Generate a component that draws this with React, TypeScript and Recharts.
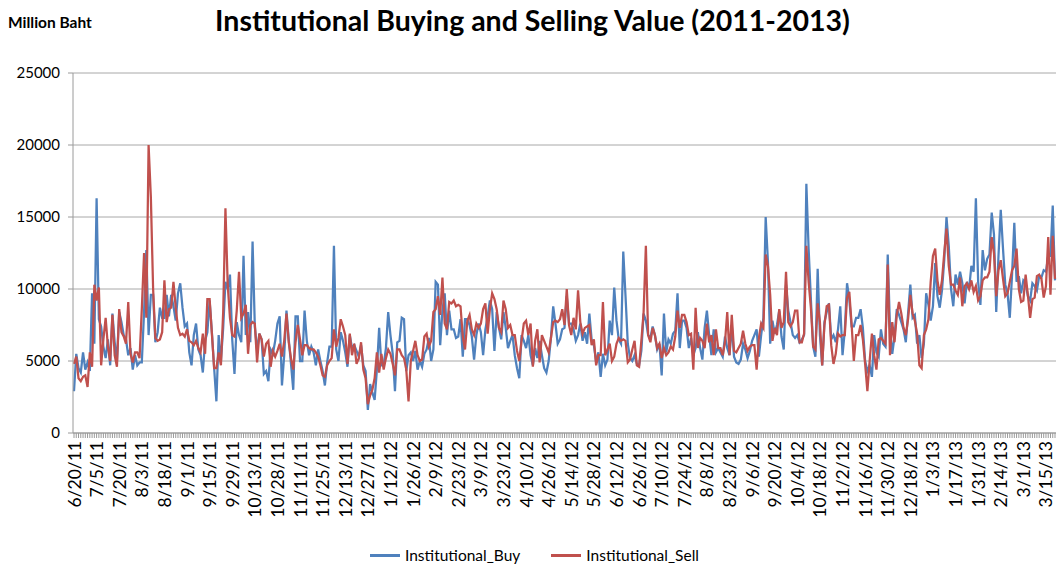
import { LineChart, Line, XAxis, YAxis, CartesianGrid } from 'recharts';

// one tick label every 10 trading days
const tickLabels = [
    '6/20/11', '7/5/11', '7/20/11', '8/3/11', '8/18/11', '9/1/11', '9/15/11', '9/29/11',
    '10/13/11', '10/28/11', '11/11/11', '11/25/11', '12/13/11', '12/27/11', '1/12/12', '1/26/12',
    '2/9/12', '2/23/12', '3/9/12', '3/23/12', '4/10/12', '4/26/12', '5/14/12', '5/28/12',
    '6/12/12', '6/26/12', '7/10/12', '7/24/12', '8/8/12', '8/23/12', '9/6/12', '9/20/12',
    '10/4/12', '10/18/12', '11/2/12', '11/16/12', '11/30/12', '12/18/12', '1/3/13', '1/17/13',
    '1/31/13', '2/14/13', '3/1/13', '3/15/13',
];

const yTicks = [0, 5000, 10000, 15000, 20000, 25000];

// Million Baht, daily (one row = 10 trading days)
const institutionalBuy = [
    2900, 5500, 4500, 4200, 5600, 4400, 4900, 4300, 9700, 6200,
    16300, 7900, 7400, 6000, 5200, 6500, 4700, 8300, 6300, 5000,
    8400, 7700, 6800, 6500, 5400, 5900, 4400, 5400, 4700, 4900,
    4900, 8400, 12700, 6800, 9600, 9600, 6300, 7000, 8700, 8000,
    8000, 9600, 8100, 9600, 8800, 7800, 9700, 10400, 8700, 7400,
    7600, 5600, 4700, 6800, 7600, 5800, 5400, 4200, 6400, 7000,
    9200, 7000, 4500, 2200, 6800, 5000, 7300, 10500, 10000, 11000,
    6500, 4100, 7700, 6800, 6300, 12300, 6800, 8400, 6300, 13300,
    7400, 5700, 6900, 6500, 4100, 4300, 3600, 5800, 5500, 6400,
    7600, 8100, 3300, 5400, 8500, 6500, 4800, 3000, 8100, 8100,
    5000, 5000, 8500, 6400, 5400, 6000, 5600, 4700, 5800, 5000,
    4300, 3300, 4900, 6000, 6000, 13000, 5800, 5000, 7000, 6400,
    5600, 4600, 6800, 5900, 6100, 5700, 5300, 6100, 4700, 4300,
    1600, 3400, 2800, 2300, 4400, 7300, 4700, 4700, 5900, 8400,
    6800, 5500, 2900, 6300, 6400, 8000, 7900, 4300, 5400, 5600,
    5000, 5700, 4400, 5000, 4600, 5500, 5800, 6600, 5000, 5800,
    10500, 10300, 6100, 8500, 9700, 6800, 8500, 7200, 7200, 6600,
    6700, 7900, 5300, 7900, 7900, 7500, 6700, 5100, 6800, 7600,
    7000, 5400, 7200, 8100, 9200, 8600, 5700, 8400, 7300, 6500,
    8400, 7300, 5900, 6400, 6800, 5400, 4500, 3800, 6800, 6400,
    5900, 6800, 5400, 4700, 5900, 5200, 6400, 5400, 4500, 4200,
    5000, 6600, 8800, 7600, 6200, 6500, 7200, 7300, 9500, 7600,
    7600, 7200, 6400, 6800, 7600, 6400, 7000, 6200, 8300, 6500,
    6100, 4900, 5600, 3900, 5500, 4700, 5100, 7800, 6800, 10100,
    7800, 6500, 6200, 12600, 9500, 6200, 5200, 5000, 5400, 4800,
    4700, 5700, 8300, 7800, 6800, 6600, 7400, 6800, 5800, 6200,
    4000, 8300, 5600, 6500, 6200, 6900, 7100, 9700, 5900, 7800,
    7800, 7300, 5900, 6600, 5400, 5900, 7000, 5900, 5100, 7300,
    8500, 6800, 5400, 7200, 5600, 5900, 5600, 5300, 6700, 5900,
    5400, 7500, 5300, 4900, 4800, 5100, 6200, 5800, 5200, 5700,
    6400, 6800, 7200, 5300, 6800, 8000, 15000, 11900, 6200, 7800,
    6900, 7500, 8500, 6700, 5800, 10300, 8500, 7700, 6800, 6600,
    6800, 6300, 6500, 6800, 17300, 12800, 9300, 6000, 5300, 11400,
    6800, 4700, 7700, 8400, 9000, 6500, 6800, 6300, 7200, 8800,
    5400, 7100, 10400, 9300, 7400, 7400, 8000, 8000, 8600, 7300,
    5000, 4300, 4700, 3900, 6800, 5600, 5300, 7200, 6200, 6000,
    12400, 7300, 5500, 6700, 8600, 8200, 7700, 7200, 6300, 8300,
    10300, 8000, 8200, 6200, 6800, 5200, 6200, 9700, 8900, 7800,
    8800, 11800, 9500, 8700, 9900, 12000, 15000, 13000, 10000, 8800,
    11000, 10300, 11200, 10400, 9000, 10500, 10000, 11600, 11200, 16300,
    10500, 8900, 12700, 11300, 12100, 12400, 15300, 13800, 8400, 12300,
    15500, 12800, 10300, 9700, 8000, 11000, 14600, 10500, 10900, 9700,
    10600, 10400, 9500, 9200, 10400, 10200, 9900, 10900, 10800, 11300,
    11200, 12300, 12300, 15800, 10600,
];

const institutionalSell = [
    4800, 5300, 3800, 3600, 3900, 4000, 3200, 5600, 4600, 10300,
    9200, 10100, 4700, 6500, 8000, 6000, 5000, 8200, 5400, 4600,
    8600, 7000, 6700, 6200, 9100, 5500, 4900, 5600, 5600, 5200,
    8600, 12500, 8000, 20000, 16400, 10000, 6600, 6400, 6500, 7000,
    10600, 7700, 8600, 8700, 10500, 8700, 7300, 6800, 6900, 6700,
    7200, 6400, 6300, 6100, 6400, 5900, 5600, 6900, 5500, 9300,
    9300, 6900, 4500, 4500, 5600, 4700, 8400, 15600, 10300, 8000,
    6800, 6700, 8500, 11200, 8000, 8300, 8900, 5500, 7500, 7700,
    7600, 4900, 6900, 6500, 5300, 6200, 6400, 4600, 5700, 5300,
    5700, 6200, 5300, 6400, 8300, 6300, 5200, 4400, 6300, 7500,
    6500, 5400, 6100, 6100, 5900, 5800, 5800, 5600, 5300, 4700,
    4000, 3900, 4700, 5000, 5200, 7200, 6000, 6600, 7900, 7400,
    6800, 4800, 6900, 5400, 6200, 4800, 5200, 6300, 4400, 3800,
    2000, 2600, 3000, 3800, 5600, 4200, 5500, 4400, 5200, 5800,
    5500, 4800, 4000, 5800, 5800, 5400, 5200, 4400, 2200, 5000,
    5700, 6400, 5400, 5000, 5100, 6700, 6900, 6000, 6400, 8400,
    8600, 9500, 8200, 10800, 7600, 7200, 9100, 9000, 9200, 8800,
    8900, 8800, 6700, 5800, 7800, 8200, 7200, 6800, 7600, 7300,
    7600, 8600, 9000, 6900, 8600, 9700, 9300, 8600, 7300, 7000,
    9200, 8600, 7300, 7500, 6800, 6800, 5700, 5000, 6400, 7600,
    7800, 6800, 7600, 4600, 6400, 7200, 4900, 6800, 6400, 6000,
    5600, 6600, 7700, 7800, 7700, 7900, 8600, 7500, 10000, 7500,
    6800, 8000, 7200, 9900, 7700, 6900, 7300, 7400, 7500, 6100,
    6500, 4700, 5400, 5400, 9100, 5400, 5800, 6200, 5000, 5300,
    6200, 6600, 6400, 6500, 6400, 4900, 5100, 5800, 6400, 4700,
    4600, 6400, 8400, 13000, 6800, 6300, 7300, 6800, 5900, 6200,
    5200, 5900, 5400, 5600, 6000, 5800, 6700, 8500, 7300, 8200,
    8200, 7700, 6800, 6900, 4400, 8700, 5900, 6600, 6400, 5900,
    7600, 6300, 6800, 5400, 7200, 5900, 5900, 5400, 6300, 8400,
    5400, 8200, 5700, 5600, 5900, 6200, 7100, 6200, 5700, 6000,
    6100, 6100, 4400, 6600, 7600, 7300, 12400, 11600, 9600, 6400,
    7300, 6800, 8600, 7300, 7700, 11200, 7700, 7400, 7700, 8500,
    8500, 6300, 6300, 6900, 13000, 10500, 8700, 6000, 5800, 9000,
    7700, 4700, 7500, 8800, 8900, 6100, 4800, 5500, 6900, 6700,
    6800, 6800, 9400, 9800, 7600, 5000, 6800, 6800, 7500, 6500,
    4800, 2900, 5000, 6900, 5400, 4400, 6500, 6600, 6400, 6200,
    11700, 5400, 7700, 6300, 8200, 9100, 8300, 7300, 6800, 7900,
    9600, 8300, 7800, 6900, 4700, 4500, 6800, 7200, 7900, 10500,
    12300, 12800, 10600, 9600, 10600, 12500, 14200, 11600, 10300, 10300,
    9900, 9600, 10800, 8800, 10200, 10400, 10000, 10600, 9800, 10200,
    9200, 9500, 10600, 10800, 10800, 11200, 13600, 12500, 9500, 11300,
    12000, 10700, 9500, 9700, 10500, 11300, 11600, 12800, 10000, 9100,
    9200, 11000, 9600, 8000, 9300, 9400, 10900, 11000, 10700, 9400,
    10200, 13600, 9600, 13700, 10700,
];

const BUY_COLOR = '#4F81BD';
const SELL_COLOR = '#C0504D';
const FONT = 'Lato, "Open Sans", sans-serif';

const data = institutionalBuy.map((v, i) => ({
    i,
    Institutional_Buy: v,
    Institutional_Sell: institutionalSell[i],
}));

// only every 10th category gets a rotated date label, the rest just keep the tick mark
function DateTick({ x, y, payload }: any) {
    const idx = payload.value as number;
    if (idx % 10 !== 0) return <g />;
    return (
        <text
            x={x}
            y={y}
            transform={`rotate(-90 ${x} ${y})`}
            textAnchor="end"
            dominantBaseline="central"
            fontSize={17.5}
            fontFamily={FONT}
            fill="#000"
        >
            {tickLabels[idx / 10]}
        </text>
    );
}

function LegendItem({ color, label }: { color: string; label: string }) {
    return (
        <div style={{ display: 'flex', alignItems: 'center', marginRight: 31 }}>
            <div style={{ width: 30, height: 3, background: color, marginRight: 5 }} />
            <span>{label}</span>
        </div>
    );
}

export default function App() {
    return (
        <div style={{ position: 'absolute', left: 0, top: 0, width: 1057, height: 569, background: '#fff', fontFamily: FONT }}>
            <div style={{ position: 'absolute', left: 8, top: 13, fontSize: 15.5, fontWeight: 700 }}>
                Million Baht
            </div>
            <div style={{ position: 'absolute', left: 4, top: 3, width: 1057, textAlign: 'center', fontSize: 28.5, fontWeight: 700 }}>
                Institutional Buying and Selling Value (2011-2013)
            </div>
            <LineChart
                width={1057}
                height={569}
                data={data}
                margin={{ top: 73, right: 1, bottom: 40, left: 8 }}
            >
                <CartesianGrid vertical={false} stroke="#a8a8a8" strokeWidth={1} />
                <XAxis
                    dataKey="i"
                    type="category"
                    interval={0}
                    height={96}
                    padding={{ left: 1, right: 1 }}
                    stroke="#9a9a9a"
                    tickSize={5}
                    tickMargin={3}
                    tick={<DateTick />}
                />
                <YAxis
                    domain={[0, 25000]}
                    ticks={yTicks}
                    width={65}
                    stroke="#9a9a9a"
                    tickSize={5}
                    tickMargin={8}
                    tick={{ fill: '#000', fontSize: 15, fontFamily: FONT }}
                />
                <Line
                    type="linear"
                    dataKey="Institutional_Buy"
                    stroke={BUY_COLOR}
                    strokeWidth={2.25}
                    dot={false}
                    isAnimationActive={false}
                />
                <Line
                    type="linear"
                    dataKey="Institutional_Sell"
                    stroke={SELL_COLOR}
                    strokeWidth={2.25}
                    dot={false}
                    isAnimationActive={false}
                />
            </LineChart>
            <div style={{ position: 'absolute', left: 370, top: 546, display: 'flex', fontSize: 15.5 }}>
                <LegendItem color={BUY_COLOR} label="Institutional_Buy" />
                <LegendItem color={SELL_COLOR} label="Institutional_Sell" />
            </div>
        </div>
    );
}
